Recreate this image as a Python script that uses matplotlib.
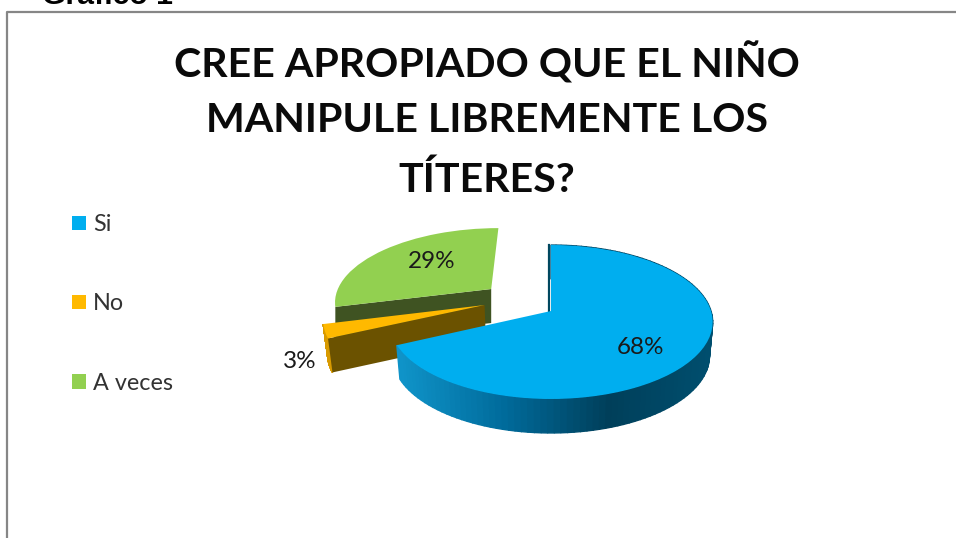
import numpy as np
import matplotlib
matplotlib.use("Agg")
import matplotlib.pyplot as plt
from matplotlib.colors import LinearSegmentedColormap

# data
categories = ["Si", "No", "A veces"]
values = [68, 3, 29]
title_lines = ["CREE APROPIADO QUE EL NIÑO", "MANIPULE LIBREMENTE LOS", "TÍTERES?"]

# styles
top_colors = ["#00AEEF", "#FFB900", "#92D050"]
cut_colors = ["#00475F", "#6B5200", "#3F5322"]
offsets = [(0, 0), (-0.42, 0.08), (-0.39, 0.304)]  # how far each slice is pulled out
narrowing = [0.98, 0.98, 1.0]
label_pos = [(641, 347), (300, 361), (432, 261)]
title_y = [63, 120, 180]

# pixel layout of the pie
CX, CY = 551, 311
AX, AY, B = 160, 75.4, 1 / 7
DEPTH = 34

plt.rcParams['font.family'] = ['Lato', 'DejaVu Sans']

blue_wall = LinearSegmentedColormap.from_list(
    "wall", ["#0F93C8", "#006A9A", "#003F5A", "#004E6E"])


# plane of the pie -> pixels, with perspective
def project(pts):
    pts = np.asarray(pts)
    d = 1 + B * pts[:, 1]
    return np.column_stack([CX + AX * pts[:, 0] / d, CY - AY * pts[:, 1] / d])


def lower(pts, narrow):
    return np.column_stack([CX + (pts[:, 0] - CX) * narrow, pts[:, 1] + DEPTH])


fig = plt.figure(figsize=(9.56, 5.38), dpi=100)
ax = fig.add_axes([0, 0, 1, 1])

wedges, _ = ax.pie(values, startangle=90, counterclock=False, colors=top_colors,
                   wedgeprops={"linewidth": 0})
ax.set_aspect("auto")
ax.set_xlim(0, 956)
ax.set_ylim(538, 0)

for i, w in enumerate(wedges):
    level = [5, 3, 1][i]  # green at the back, blue in front
    w.set_center(offsets[i])
    center = np.array(offsets[i], dtype=float)
    ang = np.radians(np.linspace(w.theta1, w.theta2, 120))
    arc = center + np.column_stack([np.cos(ang), np.sin(ang)]) * w.r
    top = project(arc)
    bot = lower(top, narrowing[i])

    # round outer wall (the green one stays hidden behind its own top)
    if i < 2:
        for k in range(len(top) - 1):
            quad = np.vstack([top[k], top[k + 1], bot[k + 1], bot[k]])
            col = blue_wall(np.clip((quad[0, 0] - 400) / 310, 0, 1)) if i == 0 else "#D89A00"
            ax.fill(quad[:, 0], quad[:, 1], color=col, lw=1, zorder=level)

    # straight cut face that looks at the viewer
    if i > 0:
        apex = project([center])
        edge = top[-1:]
        face = np.vstack([apex, edge, lower(edge, narrowing[i]), lower(apex, narrowing[i])])
        ax.fill(face[:, 0], face[:, 1], color=cut_colors[i], lw=0, zorder=level + 0.1)

    path = w.get_path()
    path.vertices[:] = project(path.vertices)
    w.set_zorder(level + 0.5)

# dark sliver at the 12 o'clock cut of the big slice
sliver = project([offsets[0], (0, 1)])
ax.plot(sliver[:, 0] - 1.5, sliver[:, 1], color=cut_colors[0], lw=1.6, zorder=4.4)

for v, (x, y) in zip(values, label_pos):
    ax.text(x, y, f"{v}%", fontsize=17.5, color="#1A1A1A", ha="center", va="center", zorder=10)

for line, y in zip(title_lines, title_y):
    ax.text(487, y, line, fontsize=29.6, fontweight="bold", color="#0A0A0A",
            ha="center", va="center", zorder=10)

leg = ax.legend(wedges, categories, loc="upper left", bbox_to_anchor=(56 / 956, 1 - 198 / 538),
                frameon=False, fontsize=16.8, labelspacing=2.49, handlelength=0.58,
                handleheight=0.58, handletextpad=0.3, labelcolor="#333333", borderpad=0.2)

# outer frame and clipped heading above it
ax.plot([7.5, 7.5, 960], [545, 11.5, 11.5], color="#868686", lw=1.6, zorder=9)
ax.text(42, 4, "Gráfico 1", family="Liberation Sans", fontweight="bold", fontsize=21.8,
        color="black", ha="left", va="baseline", zorder=10)

plt.savefig("out.png", dpi=100)
